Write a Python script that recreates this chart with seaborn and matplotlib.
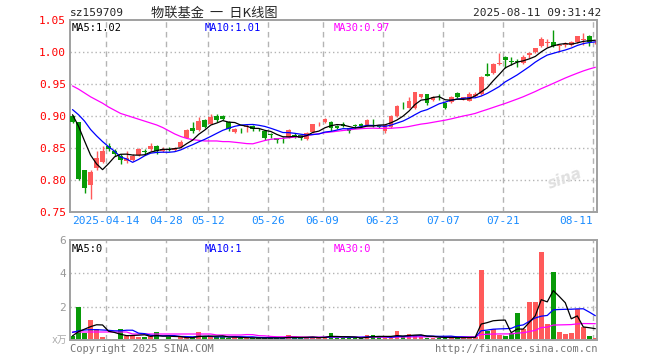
import matplotlib
matplotlib.use("Agg")
import matplotlib.pyplot as plt
import numpy as np
import pandas as pd
import seaborn as sns

# daily candles, 2025-04-03 .. 2025-08-11 (88 trading days)
opens = [.900, .890, .816, .792, .818, .828, .853, .846, .837, .829,
         .831, .839, .846, .848, .853, .845, .849, .847, .851, .866,
         .881, .878, .894, .888, .900, .900, .891, .875, .880, .883,
         .884, .880, .876, .871, .865, .863, .867, .871, .870, .864,
         .875, .887, .891, .890, .884, .888, .881, .885, .888, .886,
         .886, .884, .876, .883, .900, .916, .913, .912, .930, .934,
         .925, .930, .920, .922, .936, .928, .924, .931, .934, .965,
         .967, .981, .992, .986, .986, .983, .995, .9995, 1.009, 1.014,
         1.015, 1.009, 1.011, 1.011, 1.015, 1.019, 1.025, 1.015]
highs = [.901, .890, .816, .815, .846, .853, .858, .848, .841, .845,
         .840, .850, .848, .858, .855, .852, .851, .851, .862, .879,
         .890, .898, .895, .903, .903, .901, .892, .881, .881, .888,
         .886, .882, .877, .873, .866, .867, .879, .873, .871, .875,
         .888, .890, .897, .892, .886, .890, .882, .887, .889, .895,
         .896, .886, .887, .902, .917, .922, .930, .938, .935, .935,
         .932, .935, .922, .931, .937, .930, .938, .937, .962, .983,
         .983, .998, .993, .992, .989, .995, 1.000, 1.006, 1.024, 1.021,
         1.034, 1.011, 1.016, 1.017, 1.025, 1.030, 1.026, 1.018]
lows = [.889, .800, .779, .770, .816, .827, .846, .837, .825, .827,
        .829, .838, .841, .846, .840, .844, .845, .846, .850, .865,
        .873, .877, .882, .887, .890, .893, .876, .874, .873, .875,
        .877, .877, .862, .866, .858, .858, .866, .866, .862, .863,
        .874, .885, .889, .876, .880, .883, .873, .882, .882, .885,
        .883, .881, .873, .882, .899, .911, .912, .911, .928, .917,
        .924, .925, .911, .921, .928, .925, .923, .930, .933, .962,
        .966, .980, .975, .980, .976, .982, .990, .999, 1.008, 1.008,
        1.008, .9995, 1.008, 1.010, 1.014, 1.011, 1.009, 1.013]
closes = [.890, .802, .788, .812, .834, .845, .849, .841, .832, .835,
          .838, .848, .844, .853, .846, .849, .847, .850, .860, .878,
          .877, .892, .883, .899, .894, .896, .880, .880, .879, .885,
          .880, .879, .865, .870, .862, .862, .878, .869, .865, .873,
          .887, .888, .895, .881, .882, .884, .876, .884, .884, .893,
          .885, .883, .886, .900, .915, .915, .923, .937, .934, .921,
          .930, .929, .913, .930, .930, .928, .934, .935, .961, .963,
          .982, .983, .987, .984, .985, .992, .998, 1.006, 1.020, 1.015,
          1.009, 1.010, 1.012, 1.015, 1.025, 1.021, 1.015, 1.016]
volumes = [0.26, 1.96, 0.45, 1.22, 0.68, 0.20, 0.08, 0.08, 0.68, 0.26,
           0.26, 0.18, 0.18, 0.22, 0.50, 0.08, 0.18, 0.08, 0.18, 0.18,
           0.10, 0.50, 0.18, 0.20, 0.18, 0.18, 0.15, 0.18, 0.10, 0.10,
           0.12, 0.12, 0.15, 0.12, 0.12, 0.12, 0.30, 0.12, 0.12, 0.15,
           0.20, 0.12, 0.20, 0.42, 0.12, 0.12, 0.12, 0.12, 0.12, 0.32,
           0.32, 0.20, 0.12, 0.12, 0.56, 0.18, 0.36, 0.25, 0.20, 0.15,
           0.15, 0.12, 0.15, 0.20, 0.12, 0.12, 0.15, 0.20, 4.18, 0.56,
           0.68, 0.30, 0.26, 0.40, 1.64, 0.68, 2.26, 2.26, 5.26, 0.98,
           4.06, 0.50, 0.38, 0.44, 1.84, 0.76, 0.26, 0.10]

# moving averages before enough history is on screen
ma5_head = [.902, .884, .861, .839]
ma10_head = [.910, .902, .892, .879, .869, .860, .852, .845, .836]
ma30_head = [.947, .942, .936, .930, .925, .920, .914, .909, .904, .901,
             .898, .895, .892, .889, .886, .882, .877, .872, .868, .865,
             .863, .862, .861, .861, .861, .860, .860, .859, .858]
vma5_head = [0.25, 0.50, 0.65, 0.80]
vma10_head = [0.46, 0.55, 0.60, 0.62, 0.62, 0.60, 0.58, 0.55, 0.55]
vma30_head = [0.48] * 10 + [0.36] * 14 + [0.30] * 5

tick_labels = ["2025-04-14", "04-28", "05-12", "05-26", "06-09",
               "06-23", "07-07", "07-21", "08-11"]
tick_idx = [6, 16, 23, 33, 42, 52, 62, 72, 87]
price_ticks = [0.75, 0.80, 0.85, 0.90, 0.95, 1.00, 1.05]
vol_ticks = [2, 4, 6]


def moving(values, n, head):
    s = pd.Series(values).rolling(n).mean()
    s.iloc[:n - 1] = head
    return s


df = pd.DataFrame({"open": opens, "high": highs, "low": lows,
                   "close": closes, "vol": volumes})
df["i"] = np.arange(len(df))
df["ma5"] = moving(closes, 5, ma5_head)
df["ma10"] = moving(closes, 10, ma10_head)
df["ma30"] = moving(closes, 30, ma30_head)
df["vma5"] = moving(volumes, 5, vma5_head)
df["vma10"] = moving(volumes, 10, vma10_head)
df["vma30"] = moving(volumes, 30, vma30_head)

RED = "#ff5a5a"
GREEN = "#089a08"
BORDER = "#a0a0a0"
df["up"] = df["close"] >= df["open"]
colors = np.where(df["up"], RED, GREEN)

sns.set_style("white")
plt.rcParams["font.family"] = ["DejaVu Sans Mono", "Noto Sans CJK SC"]

W, H = 660, 360
fig = plt.figure(figsize=(6.6, 3.6), dpi=100)
ax = fig.add_axes([70 / W, 1 - 212 / H, 527 / W, 192 / H])
axv = fig.add_axes([70 / W, 1 - 340 / H, 527 / W, 100 / H])

xlim = (-0.42, 87.28)
grid_x = [t - 0.4 for t in tick_idx]

for a in (ax, axv):
    a.set_xlim(*xlim)
    for sp in a.spines.values():
        sp.set_color(BORDER)
        sp.set_linewidth(1.4)
    for gx in grid_x:
        a.axvline(gx, color="#b4b4b4", lw=1, ls=(0, (4, 3)), zorder=0)

# candles
ax.vlines(df["i"], df["low"], df["high"], colors=colors, lw=1, zorder=2)
body_lo = np.minimum(df["open"], df["close"])
body_h = np.maximum(np.abs(df["close"] - df["open"]), 0.0012)
ax.bar(df["i"], body_h, bottom=body_lo, width=0.8, color=colors,
       linewidth=0, zorder=3)

for col, c in [("ma30", "#ff00ff"), ("ma10", "#0000ff"), ("ma5", "#000000")]:
    sns.lineplot(data=df, x="i", y=col, ax=ax, color=c, lw=0.9, zorder=4)

ax.set_ylim(0.75, 1.05)
for p in price_ticks[1:-1]:
    ax.axhline(p, color="#b4b4b4", lw=1, ls=(0, (1, 2)), zorder=0)
ax.set_yticks(price_ticks)
ax.set_yticklabels([f"{p:.2f}" for p in price_ticks], color="#ff0000",
                   fontsize=8)
ax.set_xticks(grid_x)
ax.set_xticklabels(tick_labels, color="#1a8cff", fontsize=8)
ax.get_xticklabels()[-1].set_horizontalalignment("right")
ax.tick_params(length=0, pad=3)
ax.set_xlabel("")
ax.set_ylabel("")

ax.text(0.004, 0.985, "MA5:1.02", transform=ax.transAxes, fontsize=7.5,
        va="top", color="#000000")
ax.text(0.255, 0.985, "MA10:1.01", transform=ax.transAxes, fontsize=7.5,
        va="top", color="#0000ff")
ax.text(0.5, 0.985, "MA30:0.97", transform=ax.transAxes, fontsize=7.5,
        va="top", color="#ff00ff")
ax.text(0.975, 0.12, "sina", transform=ax.transAxes, fontsize=11,
        color="#e0e0e0", ha="right", fontweight="bold", style="italic",
        family="DejaVu Sans", rotation=20)

# volume
axv.bar(df["i"], df["vol"], width=0.8, color=colors, linewidth=0, zorder=2)
for col, c in [("vma30", "#ff00ff"), ("vma10", "#0000ff"), ("vma5", "#000000")]:
    sns.lineplot(data=df, x="i", y=col, ax=axv, color=c, lw=0.9, zorder=4)
axv.set_ylim(0, 6)
for v in vol_ticks[:-1]:
    axv.axhline(v, color="#b4b4b4", lw=1, ls=(0, (1, 2)), zorder=0)
axv.set_yticks(vol_ticks)
axv.set_yticklabels([str(v) for v in vol_ticks], color="#999999", fontsize=8)
axv.set_xticks([])
axv.tick_params(length=0, pad=3)
axv.set_xlabel("")
axv.set_ylabel("")
axv.text(-0.005, 0.0, "x万", transform=axv.transAxes, fontsize=7,
         color="#aaaaaa", ha="right", va="center")

axv.text(0.004, 0.96, "MA5:0", transform=axv.transAxes, fontsize=7.5,
         va="top", color="#000000")
axv.text(0.255, 0.96, "MA10:1", transform=axv.transAxes, fontsize=7.5,
         va="top", color="#0000ff")
axv.text(0.5, 0.96, "MA30:0", transform=axv.transAxes, fontsize=7.5,
         va="top", color="#ff00ff")

# header / footer
fig.text(70 / W, 1 - 13 / H, "sz159709", fontsize=8, va="center")
fig.text(151 / W, 1 - 13 / H, "物联基金  一  日K线图", fontsize=9.5,
         va="center", family=["Noto Sans CJK SC", "DejaVu Sans"])
fig.text(601 / W, 1 - 13 / H, "2025-08-11 09:31:42", fontsize=8,
         va="center", ha="right")
fig.text(70 / W, 1 - 349 / H, "Copyright 2025 SINA.COM", fontsize=7.5,
         va="center", color="#777777")
fig.text(597 / W, 1 - 349 / H, "http://finance.sina.com.cn", fontsize=7.5,
         va="center", ha="right", color="#777777")

fig.savefig("out.png", dpi=100)
